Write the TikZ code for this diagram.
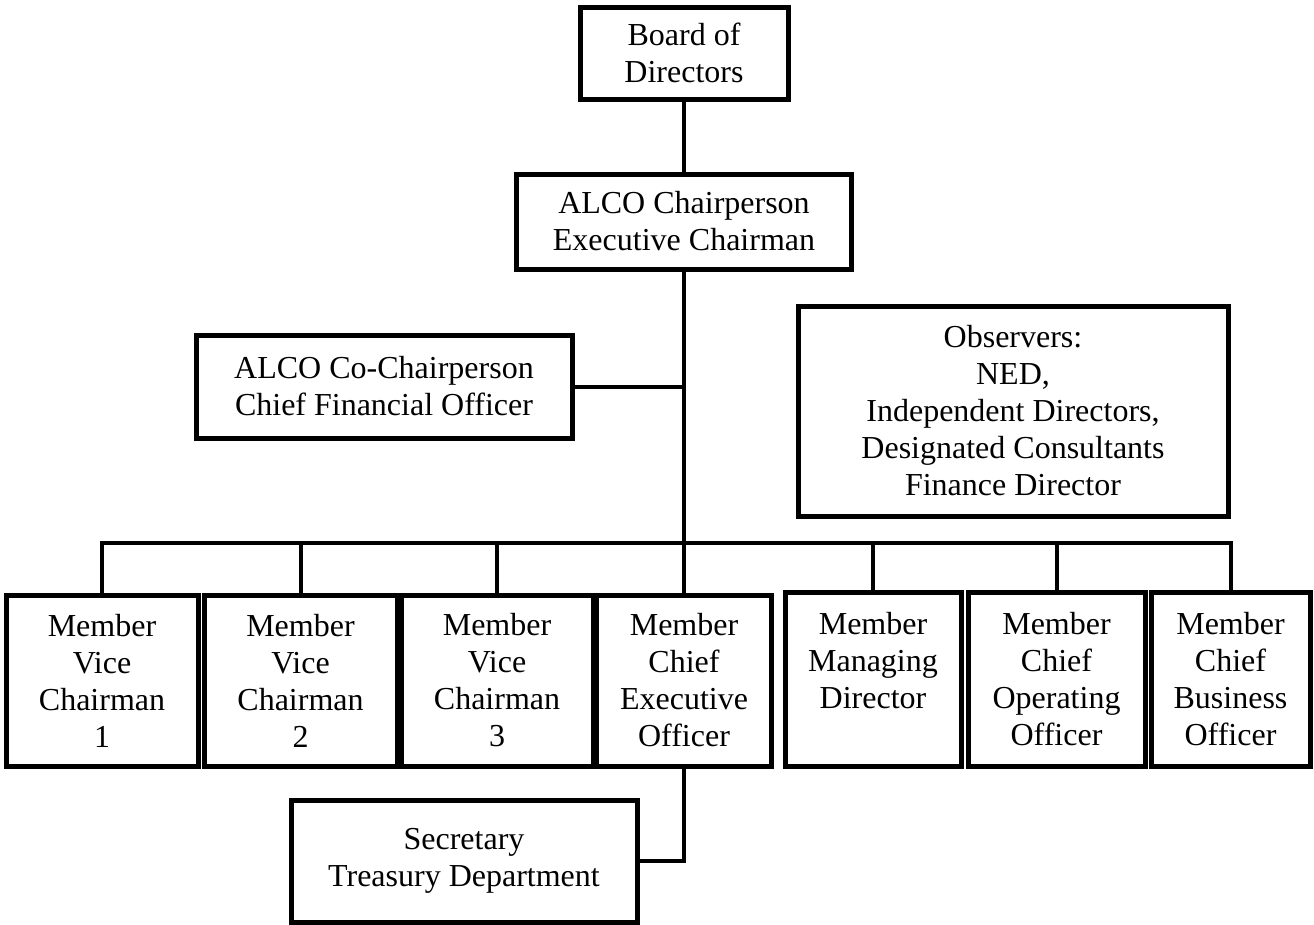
\documentclass[tikz,border=0pt]{standalone}
\usepackage{fontspec}
\setmainfont{Liberation Serif}
\begin{document}
\begin{tikzpicture}[x=1pt,y=-1pt,
  box/.style={draw=black, line width=5pt, fill=white, align=center, inner sep=0pt,
    font=\fontsize{32}{37}\selectfont},
  link/.style={draw=black, line width=4pt}]
\useasboundingbox (0,0) rectangle (1314,924);
% top
\node[box, minimum width=208pt, minimum height=92pt] (board) at (684,53) {Board of\\Directors};
\node[box, minimum width=335pt, minimum height=95pt] (alco) at (684,221.5) {ALCO Chairperson\\Executive Chairman};
\node[box, minimum width=376pt, minimum height=103pt] (cochair) at (384,386.5) {ALCO Co-Chairperson\\Chief Financial Officer};
\node[box, minimum width=430pt, minimum height=210pt] (obs) at (1013,411) {Observers:\\NED,\\Independent Directors,\\Designated Consultants\\Finance Director};
% members
\node[box, minimum width=192pt, minimum height=171pt] (m1) at (102,680.5) {Member\\Vice\\Chairman\\1};
\node[box, minimum width=193pt, minimum height=171pt] (m2) at (300.5,680.5) {Member\\Vice\\Chairman\\2};
\node[box, minimum width=192pt, minimum height=171pt] (m3) at (497,680.5) {Member\\Vice\\Chairman\\3};
\node[box, minimum width=175pt, minimum height=171pt] (m4) at (684,680.5) {Member\\Chief\\Executive\\Officer};
\node[box, minimum width=176pt, minimum height=174pt] (m5) at (873,679) {Member\\Managing\\Director\\\phantom{Officer}};
\node[box, minimum width=177pt, minimum height=174pt] (m6) at (1056.5,679) {Member\\Chief\\Operating\\Officer};
\node[box, minimum width=159pt, minimum height=174pt] (m7) at (1230.5,679) {Member\\Chief\\Business\\Officer};
\node[box, minimum width=346pt, minimum height=122pt] (sec) at (464,861) {Secretary\\Treasury Department};
\coordinate (bus) at (684,543);
% connectors
\draw[link] (board.south) -- (alco.north);
\draw[link] (alco.south) -- (m4.north);
\draw[link] (cochair.east) -- (cochair.east -| alco.south);
\draw[link] ([xshift=-2pt]m1.north |- bus) -- ([xshift=2pt]m7.north |- bus);
\foreach \m in {m1,m2,m3,m5,m6,m7} {
  \draw[link] (\m.north) -- (\m.north |- bus);
}
\draw[link] (m4.south) |- (sec.east);
\end{tikzpicture}
\end{document}
